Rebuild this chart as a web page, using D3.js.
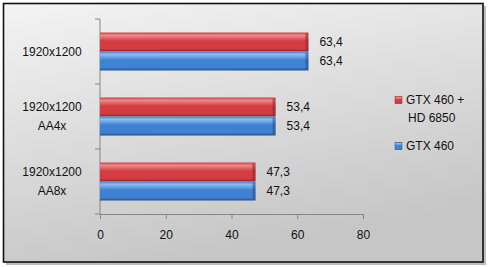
<!DOCTYPE html>
<html><head><meta charset="utf-8">
<script src="https://cdn.jsdelivr.net/npm/d3@7"></script>
<style>html,body{margin:0;padding:0;background:#fff;}svg{display:block;}</style>
</head><body>
<script>
const categories = [["1920x1200"], ["1920x1200","AA4x"], ["1920x1200","AA8x"]];
const seriesNames = ["GTX 460 + HD 6850", "GTX 460"];
const seriesRed = [63.4, 53.4, 47.3];
const seriesBlue = [63.4, 53.4, 47.3];
const xTicks = [0, 20, 40, 60, 80];

const W = 488, H = 267;
const svg = d3.select("body").append("svg").attr("width", W).attr("height", H);
const defs = svg.append("defs");

const bg = defs.append("linearGradient").attr("id","bg").attr("x1","0").attr("y1","0").attr("x2","0.35").attr("y2","1");
bg.append("stop").attr("offset","0").attr("stop-color","#f4f4f4");
bg.append("stop").attr("offset","1").attr("stop-color","#c6c6c6");

function barGrad(id, light, mid, dark) {
  const g = defs.append("linearGradient").attr("id", id).attr("x1","0").attr("y1","0").attr("x2","0").attr("y2","1");
  g.append("stop").attr("offset","0").attr("stop-color", mid);
  g.append("stop").attr("offset","0.15").attr("stop-color", light);
  g.append("stop").attr("offset","0.45").attr("stop-color", mid);
  g.append("stop").attr("offset","0.85").attr("stop-color", mid);
  g.append("stop").attr("offset","1").attr("stop-color", dark);
}
barGrad("gRed", "#ef8a8c", "#d33c40", "#8e2427");
barGrad("gBlue", "#8dbdf0", "#3f82d4", "#274f86");

// shadow + frame
svg.append("rect").attr("x",6).attr("y",6).attr("width",480).attr("height",259).attr("fill","#bdbdbd");
svg.append("rect").attr("x",3.5).attr("y",3.5).attr("width",479.5).attr("height",258.5)
  .attr("fill","url(#bg)").attr("stroke","#111").attr("stroke-width",1.6);

const x = d3.scaleLinear().domain([0, 80]).range([100, 363]);
const y = d3.scaleBand().domain(d3.range(categories.length)).range([19, 214]).paddingInner(0).paddingOuter(0);
const barH = 19;
const font = "'Liberation Sans', Arial, sans-serif";

// axes
const gx = svg.append("g").attr("transform","translate(0,214)")
  .call(d3.axisBottom(x).tickValues(xTicks).tickSize(5).tickPadding(11).tickFormat(d3.format("d")));
gx.select(".domain").attr("stroke","#868686");
gx.selectAll(".tick line").attr("stroke","#868686");
gx.selectAll("text").attr("font-family",font).attr("font-size","12px").attr("fill","#111");

const yEdges = d3.range(categories.length + 1).map(i => 19 + i * y.bandwidth());
svg.append("line").attr("x1",100).attr("x2",100).attr("y1",19).attr("y2",214).attr("stroke","#868686");
svg.selectAll(".ytick").data(yEdges).join("line")
  .attr("x1",95).attr("x2",100).attr("y1",d=>d).attr("y2",d=>d).attr("stroke","#868686");

// category labels
categories.forEach((lines, i) => {
  const cy = y(i) + y.bandwidth() / 2;
  const t = svg.append("text").attr("x", 52).attr("text-anchor","middle")
    .attr("font-family",font).attr("font-size","12px").attr("fill","#111");
  lines.forEach((ln, j) => {
    t.append("tspan").attr("x",52).attr("y", cy + (j - (lines.length-1)/2) * 19).attr("dy","0.35em").text(ln);
  });
});

// bars
function drawBars(vals, offset, grad, capColor) {
  vals.forEach((v, i) => {
    const y0 = y(i) + y.bandwidth()/2 - barH + offset * barH;
    svg.append("rect").attr("x", x(0)).attr("y", y0).attr("width", x(v) - x(0)).attr("height", barH).attr("fill", `url(#${grad})`);
    svg.append("rect").attr("x", x(v) - 3).attr("y", y0 + 1).attr("width", 3).attr("height", barH - 2).attr("fill", capColor).attr("opacity",0.55);
    svg.append("text").attr("x", x(v) + 11).attr("y", y0 + barH/2).attr("dy","0.35em")
      .attr("font-family",font).attr("font-size","12px").attr("fill","#111")
      .text(d3.format(".1f")(v).replace(".", ","));
  });
}
drawBars(seriesRed, 0, "gRed", "#8e2427");
drawBars(seriesBlue, 1, "gBlue", "#274f86");

// legend
svg.append("rect").attr("x",395).attr("y",96.5).attr("width",7).attr("height",7).attr("fill","url(#gRed)").attr("stroke","#8e2427").attr("stroke-width",0.5);
svg.append("text").attr("font-family",font).attr("font-size","12px").attr("fill","#111")
  .attr("x",406).attr("y",100).attr("dy","0.35em").text("GTX 460  +");
svg.append("text").attr("font-family",font).attr("font-size","12px").attr("fill","#111")
  .attr("x",408).attr("y",118).attr("dy","0.35em").text("HD 6850");
svg.append("rect").attr("x",395).attr("y",142.5).attr("width",7).attr("height",7).attr("fill","url(#gBlue)").attr("stroke","#274f86").attr("stroke-width",0.5);
svg.append("text").attr("font-family",font).attr("font-size","12px").attr("fill","#111")
  .attr("x",406).attr("y",146).attr("dy","0.35em").text("GTX 460");
</script>
</body></html>
